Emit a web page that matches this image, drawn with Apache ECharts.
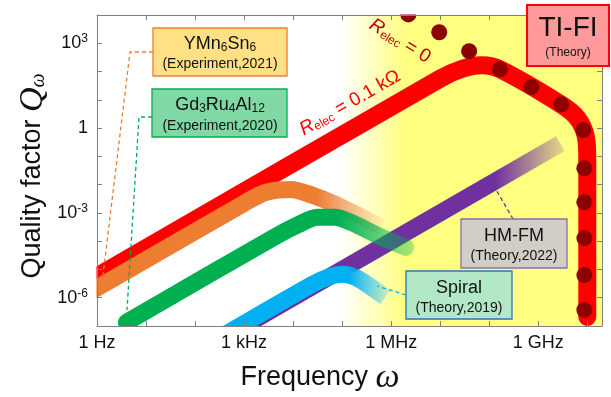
<!DOCTYPE html>
<html>
<head>
<meta charset="utf-8">
<script src="https://cdn.jsdelivr.net/npm/echarts@6/dist/echarts.min.js"></script>
<style>
  html, body { margin: 0; padding: 0; background: #fff; }
  #chart { width: 611px; height: 397px; }
</style>
</head>
<body>
<div id="chart"></div>
<script>
// all values are log10: x = log10(frequency / Hz), y = log10(Q)
const xTickValues = [0, 3, 6, 9];
const xTickLabels = ['1 Hz', '1 kHz', '1 MHz', '1 GHz'];
const yTickValues = [-6, -3, 0, 3];
const yTickExponents = ['-6', '-3', '', '3'];

// TI-FI, R_elec = 0.1 kOhm (thick red band)
const tiFiRelec01 = [[-0.4, -5.65], [7.0, 1.75], [7.45, 2.1], [7.85, 2.22], [8.22, 2.08], [9.47, 0.83], [9.8, 0.35], [9.97, -0.3], [10.0, -1.2], [10.0, -6.68]];
// TI-FI, R_elec = 0 (dots)
const tiFiRelec0 = [[5.72, 4.65], [6.35, 4.02], [6.98, 3.39], [7.59, 2.72], [8.22, 2.08], [8.86, 1.45], [9.47, 0.84], [9.92, -0.07], [9.94, -1.42], [9.94, -2.62], [9.94, -3.89], [9.94, -5.2], [9.94, -6.43]];
const ymn6sn6 = [[-0.4, -6.06], [3.0, -2.66], [3.45, -2.27], [3.95, -2.17], [4.4, -2.38], [4.82, -2.67], [5.8, -3.5]];
const gd3ru4al12 = [[0.6, -6.87], [3.6, -3.87], [4.1, -3.42], [4.5, -3.15], [4.85, -3.15], [5.2, -3.35], [5.84, -3.89], [6.3, -4.22]];
const spiral = [[2.4, -7.52], [4.4, -5.52], [4.75, -5.25], [5.0, -5.17], [5.3, -5.3], [5.88, -5.98]];
const hmFm = [[2.8, -7.2], [9.45, -0.55]];
const yellowBand = [4.96, 10.3];

const SANS = 'Liberation Sans';
const SERIF = 'Liberation Serif';

const chart = echarts.init(document.getElementById('chart'));

const fade = (rgb, start, endAlpha) => ({
  type: 'linear', x: 0, y: 0, x2: 1, y2: 0,
  colorStops: [
    { offset: 0, color: `rgba(${rgb},1)` },
    { offset: start, color: `rgba(${rgb},1)` },
    { offset: 1, color: `rgba(${rgb},${endAlpha})` }
  ]
});

const band = (name, data, color, width, cap) => ({
  name, type: 'line', data, smooth: 0.3, symbol: 'none', z: 2,
  lineStyle: { color, width, cap, join: 'round' }
});

const axisCommon = {
  type: 'value',
  z: 6,
  axisLine: { onZero: false, lineStyle: { color: '#7f7f7f', width: 1 } },
  axisTick: { inside: true, length: 5, lineStyle: { color: '#7f7f7f' } },
  splitLine: { show: false }
};

const xAxisBase = { ...axisCommon, min: 0, max: 10.3, interval: 1 };
const yAxisBase = { ...axisCommon, min: -7, max: 4, interval: 1 };

const box = (x, y, w, h, fill, stroke, lw) => ({
  type: 'rect', z: 100, shape: { x, y, width: w, height: h },
  style: { fill, stroke, lineWidth: lw || 1.3 }
});
const txt = (x, y, text, size, rich, extra) => ({
  type: 'text', z: 101, x, y, ...(extra || {}),
  style: {
    text, fill: '#111', fontFamily: SANS, fontSize: size,
    align: 'center', verticalAlign: 'middle', rich: rich || {}
  }
});
const dash = (points, color) => ({
  type: 'polyline', z: 99, shape: { points },
  style: { stroke: color, lineWidth: 1.3, lineDash: [4, 3], fill: null }
});
// white margins outside the plot frame, so the thick bands end at the frame
const mask = (x, y, w, h) => ({
  type: 'rect', z: 5, silent: true, shape: { x, y, width: w, height: h },
  style: { fill: '#fff' }
});

const n18 = { fontFamily: SANS, fontSize: 18, fill: '#111' };
const sub12 = { fontFamily: SANS, fontSize: 12, fill: '#111', padding: [8, 0, 0, 0] };

const option = {
  animation: false,
  backgroundColor: '#fff',
  grid: { left: 97, right: 9, top: 15, bottom: 71 },
  xAxis: [
    {
      ...xAxisBase, position: 'bottom',
      axisLabel: {
        margin: 8, fontFamily: SANS, fontSize: 18, color: '#111',
        formatter: v => { const i = xTickValues.indexOf(v); return i < 0 ? '' : xTickLabels[i]; }
      }
    },
    { ...xAxisBase, position: 'top', axisLabel: { show: false } }
  ],
  yAxis: [
    {
      ...yAxisBase, position: 'left',
      axisLabel: {
        margin: 9,
        formatter: v => {
          const i = yTickValues.indexOf(v);
          if (i < 0) return '';
          return yTickExponents[i] === '' ? '{b|1}' : '{b|10}{sup|' + yTickExponents[i] + '}';
        },
        rich: {
          b: { fontFamily: SANS, fontSize: 18, color: '#111' },
          sup: { fontFamily: SANS, fontSize: 12, color: '#111', padding: [0, 0, 9, 0] }
        }
      }
    },
    { ...yAxisBase, position: 'right', axisLabel: { show: false } }
  ],
  series: [
    {
      ...band('TI-FI 0.1 kΩ', tiFiRelec01, '#ff0000', 18, 'round'),
      markArea: {
        silent: true,
        itemStyle: {
          color: {
            type: 'linear', x: 0, y: 0, x2: 1, y2: 0,
            colorStops: [
              { offset: 0, color: 'rgba(255,255,128,0)' },
              { offset: 0.25, color: 'rgba(255,255,128,1)' },
              { offset: 1, color: 'rgba(255,255,128,1)' }
            ]
          }
        },
        data: [[{ xAxis: yellowBand[0] }, { xAxis: yellowBand[1] }]]
      }
    },
    band('HM-FM', hmFm, fade('112,48,160', 0.785, 0.12), 17, 'butt'),
    band('YMn6Sn6', ymn6sn6, fade('237,125,49', 0.77, 0.0), 17, 'butt'),
    band('Gd3Ru4Al12', gd3ru4al12, fade('0,176,80', 0.74, 0.3), 17, 'round'),
    band('Spiral', spiral, fade('0,176,240', 0.76, 0.08), 17, 'butt'),
    {
      name: 'TI-FI 0', type: 'scatter', data: tiFiRelec0, z: 3,
      symbolSize: 16, itemStyle: { color: '#8e0000', opacity: 1 }, clip: false
    }
  ],
  graphic: [
    mask(0, 0, 96.5, 397),
    mask(0, 326.5, 611, 71),
    mask(0, 0, 611, 14.5),
    mask(602.5, 0, 9, 397),

    // axis titles
    txt(33, 176, '{a|Quality factor }{q|Q}{w|ω}', 27, {
      a: { fontFamily: SANS, fontSize: 27, fill: '#111' },
      q: { fontFamily: SERIF, fontStyle: 'italic', fontSize: 34, fill: '#111' },
      w: { fontFamily: SERIF, fontStyle: 'italic', fontSize: 20, fill: '#111', padding: [12, 0, 0, 0] }
    }, { rotation: Math.PI / 2 }),
    txt(320, 378, '{a|Frequency }{w|ω}', 27, {
      a: { fontFamily: SANS, fontSize: 27, fill: '#111' },
      w: { fontFamily: SERIF, fontStyle: 'italic', fontSize: 34, fill: '#111' }
    }),

    // rotated curve labels
    txt(350, 103, '{r|R}{s|elec}{t| = 0.1 kΩ}', 19, {
      r: { fontFamily: SANS, fontStyle: 'italic', fontSize: 19, fill: '#ff0000' },
      s: { fontFamily: SANS, fontSize: 12, fill: '#ff0000', padding: [8, 0, 0, 0] },
      t: { fontFamily: SANS, fontSize: 19, fill: '#ff0000' }
    }, { rotation: 0.52 }),
    txt(400, 41, '{r|R}{s|elec}{t| = 0}', 19, {
      r: { fontFamily: SANS, fontStyle: 'italic', fontSize: 19, fill: '#c00000' },
      s: { fontFamily: SANS, fontSize: 12, fill: '#c00000', padding: [8, 0, 0, 0] },
      t: { fontFamily: SANS, fontSize: 19, fill: '#c00000' }
    }, { rotation: -0.55 }),

    // leader lines
    dash([[153, 52], [130, 52], [103, 275]], '#ED7D31'),
    dash([[152, 117], [139, 117], [127, 310]], '#00B050'),
    dash([[513, 219], [495, 188]], '#7030A0'),
    dash([[406, 295], [377, 286]], '#00B0F0'),

    // boxes
    box(153, 28, 134, 48, '#FFE085', '#ED7D31'),
    txt(220, 44, '{n|YMn}{s|6}{n|Sn}{s|6}', 18, { n: n18, s: sub12 }),
    txt(220, 64, '(Experiment,2021)', 14),

    box(152, 89, 135, 48, '#80D8A4', '#00B050'),
    txt(220, 105, '{n|Gd}{s|3}{n|Ru}{s|4}{n|Al}{s|12}', 18, { n: n18, s: sub12 }),
    txt(220, 126, '(Experiment,2020)', 14),

    box(527, 5, 82, 61, '#FF9A9A', '#ff0000', 2),
    txt(568, 28, 'TI-FI', 28),
    txt(568, 53, '(Theory)', 12),

    box(461, 219, 106, 49, '#D0CEC6', '#8A70A8'),
    txt(514, 236, 'HM-FM', 18),
    txt(514, 256, '(Theory,2022)', 14),

    box(406, 271, 106, 48, '#B2E8C6', '#2E75B6'),
    txt(459, 288, 'Spiral', 18),
    txt(459, 308, '(Theory,2019)', 14)
  ]
};

chart.setOption(option);
</script>
</body>
</html>
